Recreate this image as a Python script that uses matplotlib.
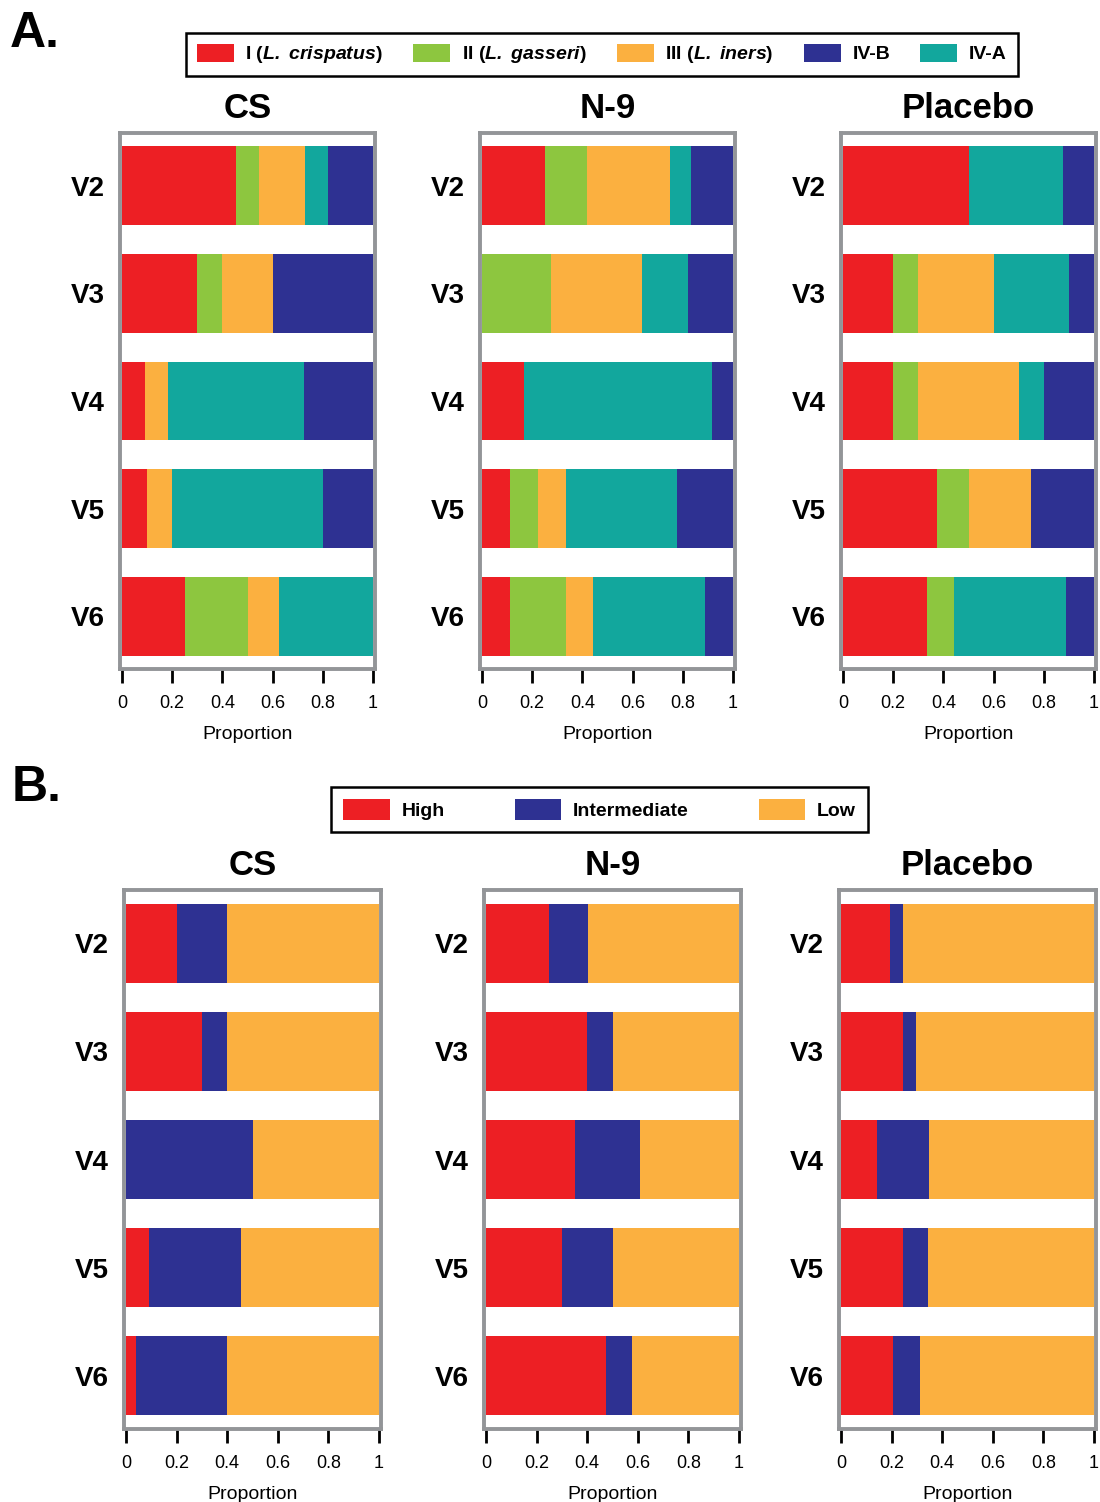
import matplotlib
matplotlib.use("Agg")
import numpy as np
import matplotlib.pyplot as plt
from matplotlib.patches import Patch

plt.rcParams['font.family'] = ['Liberation Sans', 'DejaVu Sans']
plt.rcParams['mathtext.fontset'] = 'custom'
plt.rcParams['mathtext.rm'] = 'Liberation Sans:bold'
plt.rcParams['mathtext.bf'] = 'Liberation Sans:bold'
plt.rcParams['mathtext.it'] = 'Liberation Sans:bold:italic'
plt.rcParams['mathtext.bfit'] = 'Liberation Sans:bold:italic'

visits = ["V2", "V3", "V4", "V5", "V6"]
groups = ["CS", "N-9", "Placebo"]

# panel A: community state types (stack order I, II, III, IV-A, IV-B)
cst_names = ["I", "II", "III", "IV-A", "IV-B"]
cst_cs = [[0.455, 0.3, 0.091, 0.1, 0.25],
          [0.091, 0.1, 0.0, 0.0, 0.25],
          [0.182, 0.2, 0.091, 0.1, 0.125],
          [0.091, 0.0, 0.545, 0.6, 0.375],
          [0.182, 0.4, 0.273, 0.2, 0.0]]
cst_n9 = [[0.25, 0.0, 0.167, 0.111, 0.111],
          [0.167, 0.273, 0.0, 0.111, 0.222],
          [0.333, 0.364, 0.0, 0.111, 0.111],
          [0.083, 0.182, 0.75, 0.444, 0.444],
          [0.167, 0.182, 0.083, 0.222, 0.111]]
cst_placebo = [[0.5, 0.2, 0.2, 0.375, 0.333],
               [0.0, 0.1, 0.1, 0.125, 0.111],
               [0.0, 0.3, 0.4, 0.25, 0.0],
               [0.375, 0.3, 0.1, 0.0, 0.444],
               [0.125, 0.1, 0.2, 0.25, 0.111]]

# panel B: high / intermediate / low
level_names = ["High", "Intermediate", "Low"]
lvl_cs = [[0.2, 0.3, 0.0, 0.091, 0.04],
          [0.2, 0.1, 0.5, 0.364, 0.36],
          [0.6, 0.6, 0.5, 0.545, 0.6]]
lvl_n9 = [[0.25, 0.4, 0.353, 0.3, 0.474],
          [0.155, 0.1, 0.254, 0.2, 0.105],
          [0.595, 0.5, 0.393, 0.5, 0.421]]
lvl_placebo = [[0.195, 0.245, 0.142, 0.245, 0.205],
               [0.05, 0.05, 0.205, 0.098, 0.107],
               [0.755, 0.705, 0.653, 0.657, 0.688]]

red = "#ED1F24"
green = "#8DC63F"
orange = "#FBB040"
blue = "#2E3192"
teal = "#12A79D"
frame_gray = "#939598"

cst_colors = [red, green, orange, teal, blue]
lvl_colors = [red, blue, orange]

fig = plt.figure(figsize=(11, 15.02), dpi=100)


def draw_panel(ax, data, colors, title):
    y = np.arange(len(visits))
    left = np.zeros(len(visits))
    for vals, c in zip(data, colors):
        vals = np.array(vals)
        ax.barh(y, vals, left=left, height=0.73, color=c, edgecolor='none')
        left += vals
    ax.set_ylim(4.49, -0.49)
    ax.set_xlim(-0.008, 1.008)
    ax.set_yticks(y)
    ax.set_yticklabels(visits, fontsize=20, fontweight='bold')
    ax.tick_params(axis='y', length=0, pad=11)
    ax.set_xticks([0, 0.2, 0.4, 0.6, 0.8, 1])
    ax.set_xticklabels(["0", "0.2", "0.4", "0.6", "0.8", "1"], fontsize=13)
    ax.tick_params(axis='x', length=10, width=2, direction='out', pad=9, color='black')
    for s in ax.spines.values():
        s.set_color(frame_gray)
        s.set_linewidth(2.8)
    ax.set_xlabel("Proportion", fontsize=14, labelpad=10)
    ax.set_title(title, fontsize=25, fontweight='bold', pad=11)


xs_a = [120, 480, 841]
xs_b = [124, 484, 839]
for i, (g, d) in enumerate(zip(groups, [cst_cs, cst_n9, cst_placebo])):
    ax = fig.add_axes([xs_a[i] / 1100, 1 - 669 / 1502, 255 / 1100, 536 / 1502])
    draw_panel(ax, d, cst_colors, g)

for i, (g, d) in enumerate(zip(groups, [lvl_cs, lvl_n9, lvl_placebo])):
    ax = fig.add_axes([xs_b[i] / 1100, 1 - 1429 / 1502, 257 / 1100, 539 / 1502])
    draw_panel(ax, d, lvl_colors, g)

# legends
leg_a_labels = [r"I ($\mathbfit{L.}$ $\mathbfit{crispatus}$)", r"II ($\mathbfit{L.}$ $\mathbfit{gasseri}$)",
                r"III ($\mathbfit{L.}$ $\mathbfit{iners}$)", "IV-B", "IV-A"]
leg_a_colors = [red, green, orange, blue, teal]
handles_a = [Patch(facecolor=c, edgecolor='none') for c in leg_a_colors]
leg = fig.legend(handles_a, leg_a_labels, loc='center', bbox_to_anchor=(0.547, 0.9637),
                 ncol=5, fancybox=False, edgecolor='black', framealpha=1,
                 prop={'weight': 'bold', 'size': 14}, handlelength=1.9, handleheight=1.1,
                 handletextpad=0.6, columnspacing=1.55, borderpad=0.55)
leg.get_frame().set_linewidth(1.8)

handles_b = [Patch(facecolor=c, edgecolor='none') for c in lvl_colors]
leg = fig.legend(handles_b, level_names, loc='center', bbox_to_anchor=(0.545, 0.461),
                 ncol=3, fancybox=False, edgecolor='black', framealpha=1,
                 prop={'weight': 'bold', 'size': 14}, handlelength=2.4, handleheight=1.3,
                 handletextpad=0.6, columnspacing=3.6, borderpad=0.6)
leg.get_frame().set_linewidth(1.8)

fig.text(0.009, 0.993, "A.", fontsize=36, fontweight='bold', va='top', ha='left')
fig.text(0.011, 0.491, "B.", fontsize=36, fontweight='bold', va='top', ha='left')

fig.savefig("out.png", dpi=100)
